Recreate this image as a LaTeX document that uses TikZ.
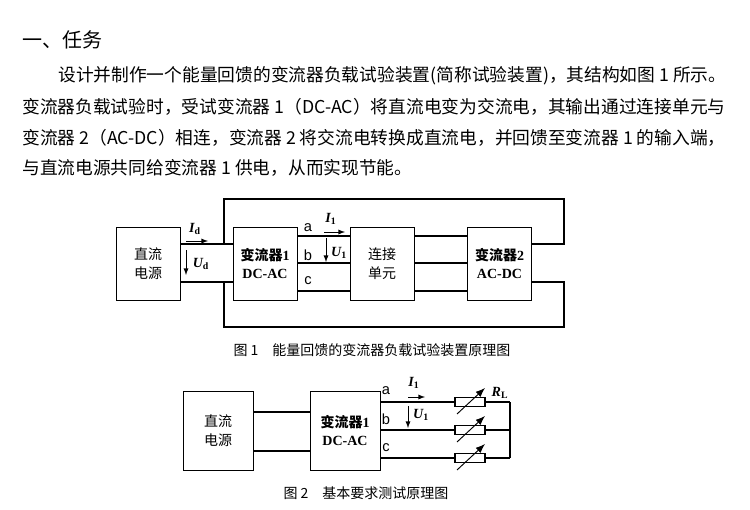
\documentclass[tikz,border=0pt]{standalone}
\usepackage{fontspec}
\setmainfont{Liberation Serif}
\newfontfamily\cjk{Noto Sans CJK SC}
\newfontfamily\phasefont{Liberation Sans}
\usetikzlibrary{arrows.meta,calc}
\tikzset{
  % For the boxes of figure 1.
  block/.style={
    draw,
    minimum width=48pt,
    minimum height=55pt,
    align=center,
    font=\fontsize{10.5pt}{14pt}\selectfont},
%
  % For the boxes of figure 2.
  big block/.style={
    block,
    minimum width=52.5pt,
    minimum height=59pt},
%
  % For wires.
  wire/.style={
    line width=0.8pt},
%
  % For current and voltage arrows.
  direction/.style={
    line width=0.7pt,
    -latex},
%
  % For variable names.
  quantity/.style={
    font=\fontsize{10.5pt}{0pt}\selectfont\bfseries\itshape},
%
  % For phase letters.
  phase/.style={
    font=\fontsize{11pt}{0pt}\selectfont\phasefont},
%
  % For running text.
  paragraph/.style={
    anchor=west,
    inner sep=0pt,
    font=\fontsize{13.3pt}{0pt}\selectfont\cjk},
%
  % For figure captions.
  caption/.style={
    font=\fontsize{10.5pt}{0pt}\selectfont\cjk}
}
\begin{document}
\begin{tikzpicture}[x=0.75pt, y=-0.75pt]
  \useasboundingbox (0,0) rectangle (750,510);

  % Text.
  \node[paragraph, font=\fontsize{15pt}{0pt}\selectfont\cjk] (title) at (22,40) {一、任务};
  \node[paragraph] (line1) at (58,76)
    {设计并制作一个能量回馈的变流器负载试验装置(简称试验装置)，其结构如图 1 所示。};
  \node[paragraph] (line2) at (22,107)
    {变流器负载试验时，受试变流器 1（DC-AC）将直流电变为交流电，其输出通过连接单元与};
  \node[paragraph] (line3) at (22,138)
    {变流器 2（AC-DC）相连，变流器 2 将交流电转换成直流电，并回馈至变流器 1 的输入端，};
  \node[paragraph] (line4) at (22,168)
    {与直流电源共同给变流器 1 供电，从而实现节能。};

  % Figure 1.
  \node[block] (source) at (148,263.5) {{\cjk 直流}\\{\cjk 电源}};
  \node[block] (inverter) at (265,263.5) {\textbf{{\cjk 变流器}1}\\\textbf{DC-AC}};
  \node[block] (link) at (382,263.5) {{\cjk 连接}\\{\cjk 单元}};
  \node[block] (rectifier) at (499.5,263.5) {\textbf{{\cjk 变流器}2}\\\textbf{AC-DC}};

  \draw[wire] (source.east |- 0,244) -- (inverter.west |- 0,244);
  \draw[wire] (source.east |- 0,282) -- (inverter.west |- 0,282);
  \foreach \y in {236,263,291} {
    \draw[wire] (inverter.east |- 0,\y) -- (link.west |- 0,\y);
    \draw[wire] (link.east |- 0,\y) -- (rectifier.west |- 0,\y);
  }
  \draw[wire] (224,244) -- (224,199) -- (564,199) -- (564,244)
              -- (rectifier.east |- 0,244);
  \draw[wire] (224,282) -- (224,327) -- (564,327) -- (564,282)
              -- (rectifier.east |- 0,282);

  \draw[direction] (186,241) -- (208,241);
  \node[quantity] (Id) at (195,229) {I\textsubscript{\upshape d}};
  \draw[direction] (186,250) -- (186,275);
  \node[quantity] (Ud) at (201,264) {U\textsubscript{\upshape d}};

  \node[phase] (a1) at (308,228) {a};
  \node[phase] (b1) at (308,255) {b};
  \node[phase] (c1) at (308,281) {c};
  \draw[direction] (324,232) -- (345,232);
  \node[quantity] (I1) at (331,219) {I\textsubscript{\upshape 1}};
  \draw[direction] (326,238) -- (326,262);
  \node[quantity] (U1) at (339,253) {U\textsubscript{\upshape 1}};

  \node[caption] (cap1) at (372,350) {图 1\quad 能量回馈的变流器负载试验装置原理图};

  % Figure 2.
  \node[big block] (source2) at (218,430.5) {{\cjk 直流}\\{\cjk 电源}};
  \node[big block] (inverter2) at (345,430.5) {\textbf{{\cjk 变流器}1}\\\textbf{DC-AC}};

  \draw[wire] (source2.east |- 0,412) -- (inverter2.west |- 0,412);
  \draw[wire] (source2.east |- 0,451) -- (inverter2.west |- 0,451);
  \foreach \y/\n in {402/ra,430/rb,458/rc} {
    \node[draw, wire, minimum width=22.5pt, minimum height=6.5pt, inner sep=0pt]
      (\n) at (470,\y) {};
    \draw[wire] (inverter2.east |- 0,\y) -- (\n.west);
    \draw[wire] (\n.east) -- (510,\y);
    \draw[direction, -{Latex[length=7pt]}] ($(\n.center) + (-13,12)$) -- ($(\n.center) + (15,-14)$);
  }
  \draw[wire] (510,402) -- (510,458);
  \node[quantity] (RL) at (500,393) {R\textsubscript{\upshape L}};

  \node[phase] (a2) at (386,391) {a};
  \node[phase] (b2) at (386,419) {b};
  \node[phase] (c2) at (386,448) {c};
  \draw[direction] (408,397) -- (425,397);
  \node[quantity] (I2) at (414,383) {I\textsubscript{\upshape 1}};
  \draw[direction] (408,406) -- (408,428);
  \node[quantity] (U2) at (421,415) {U\textsubscript{\upshape 1}};

  \node[caption] (cap2) at (366,493) {图 2\quad 基本要求测试原理图};
\end{tikzpicture}
\end{document}
